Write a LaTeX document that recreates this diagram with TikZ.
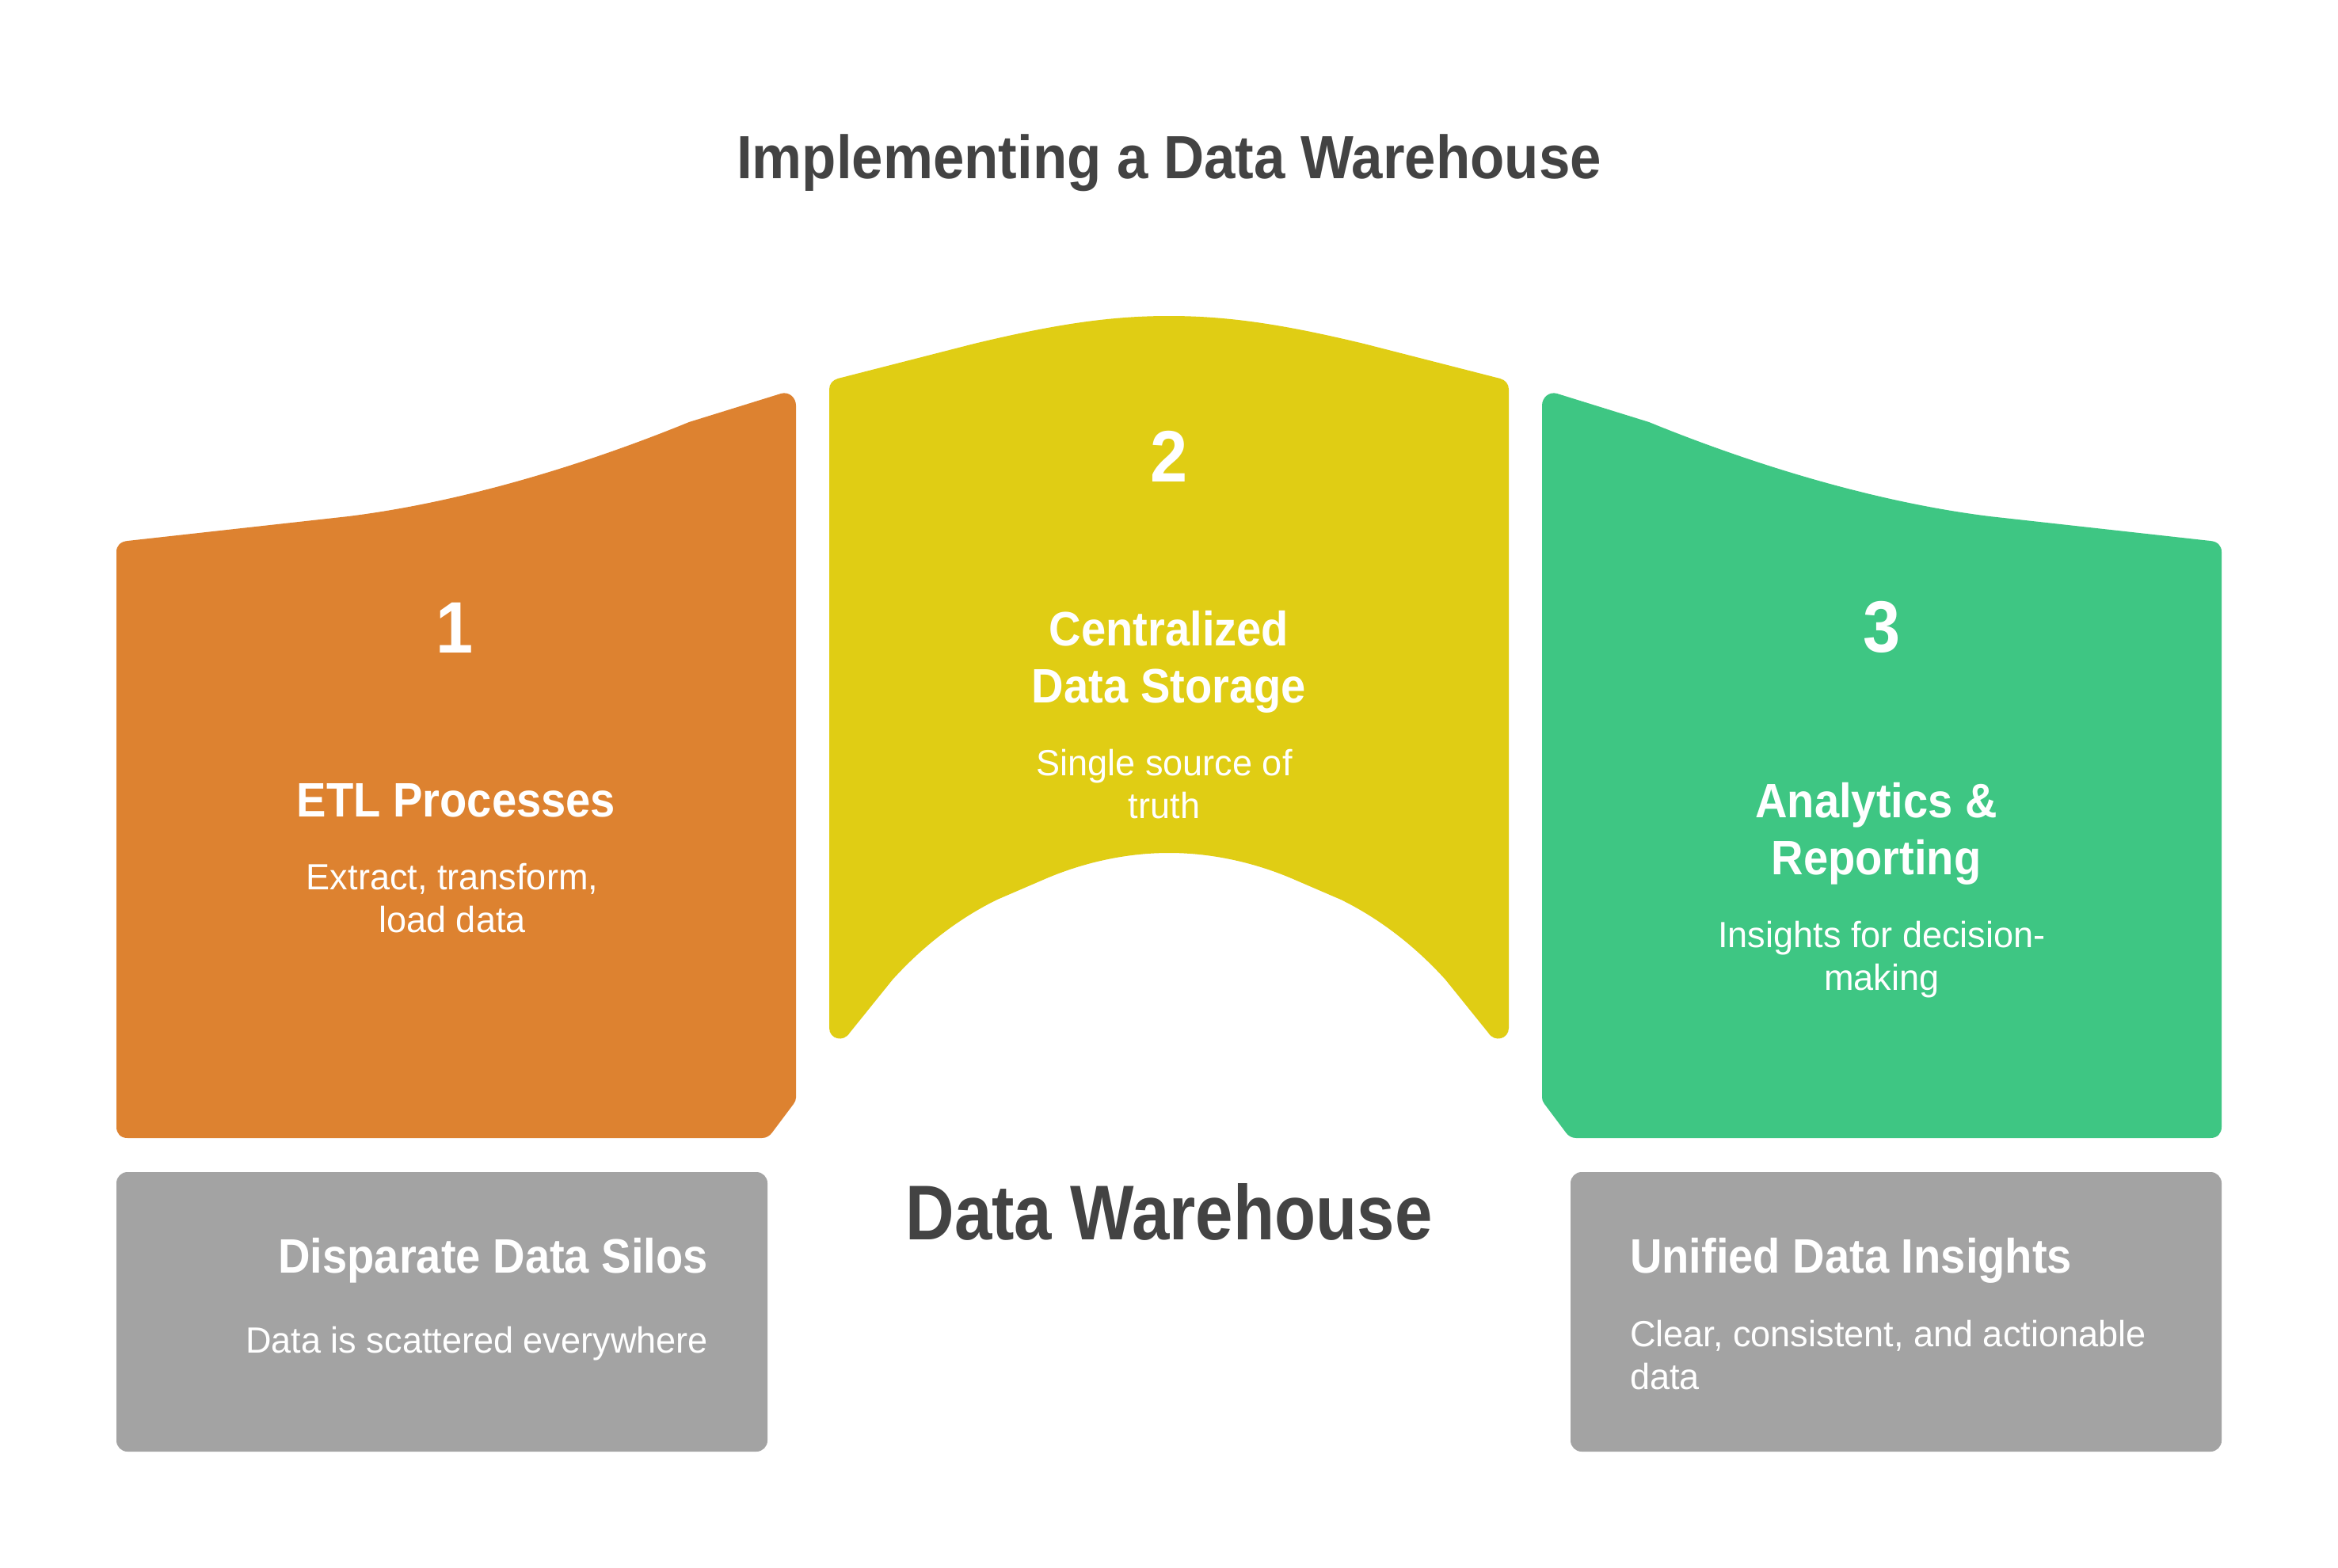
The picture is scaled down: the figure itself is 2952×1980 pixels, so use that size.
\documentclass[tikz,border=0pt]{standalone}
\usepackage{fontspec}
\setmainfont{Liberation Sans}
\newfontfamily\rbold[FakeStretch=0.92]{Liberation Sans Bold}
\newfontfamily\rbig[FakeStretch=0.87]{Liberation Sans Bold}
\newfontfamily\rreg[FakeStretch=0.98]{Liberation Sans}
\definecolor{orangeblk}{HTML}{DD8230}
\definecolor{yellowblk}{HTML}{E0CD14}
\definecolor{greenblk}{HTML}{3EC683}
\definecolor{grayblk}{HTML}{A3A3A3}
\definecolor{inkdark}{HTML}{434343}
\tikzset{
  x=0.5pt,y=-0.5pt,
  label base/.style={inner sep=0pt,outer sep=0pt,anchor=base,align=center},
  numtext/.style={label base,text=white,font=\rbold\fontsize{46}{46}\selectfont},
  headtext/.style={label base,text=white,font=\rbold\fontsize{30.5}{36}\selectfont},
  bodytext/.style={label base,text=white,font=\rreg\fontsize{23}{27}\selectfont},
  titletext/.style={label base,text=inkdark,font=\rbold\fontsize{38.5}{42}\selectfont},
  bigtext/.style={label base,text=inkdark,font=\rbig\fontsize{49}{54}\selectfont},
  graybox/.style={fill=grayblk,rounded corners=7pt}
}
\def\sideshape{
  (147,697) .. controls (147,689) and (152,684) .. (161,683)
  -- (440,652) .. controls (600,632) and (760,578) .. (870,533)
  -- (986,497) .. controls (996,494) and (1005,502) .. (1005,512)
  -- (1005,1386) .. controls (1005,1389) and (1004,1391) .. (1002,1394)
  -- (975,1430) .. controls (972,1434) and (968,1437) .. (962,1437)
  -- (161,1437) .. controls (152,1437) and (147,1431) .. (147,1423) -- cycle}
\begin{document}
\begin{tikzpicture}
\useasboundingbox (0,0) rectangle (2952,1980);
\fill[white] (0,0) rectangle (2952,1980);

\fill[orangeblk] \sideshape;
\fill[greenblk,shift={(2952,0)},xscale=-1] \sideshape;
\fill[yellowblk]
  (1047,492) .. controls (1047,485) and (1051,480) .. (1058,478)
  -- (1230,434) .. controls (1330,410) and (1400,399) .. (1476,399)
  .. controls (1552,399) and (1622,410) .. (1722,434)
  -- (1894,478) .. controls (1901,480) and (1905,485) .. (1905,492)
  -- (1905,1298) .. controls (1905,1312) and (1887,1317) .. (1879,1304)
  -- (1825,1237) .. controls (1787,1195) and (1742,1160) .. (1693,1136)
  -- (1635,1111) .. controls (1587,1090) and (1532,1077) .. (1476,1077)
  .. controls (1420,1077) and (1365,1090) .. (1317,1111)
  -- (1259,1136) .. controls (1210,1160) and (1165,1195) .. (1127,1237)
  -- (1073,1304) .. controls (1065,1317) and (1047,1312) .. (1047,1298) -- cycle;
\fill[graybox] (147,1480) rectangle (969,1833);
\fill[graybox] (1983,1480) rectangle (2805,1833);

\node[titletext] (title) at (1476,226) {Implementing a Data Warehouse};
\node[numtext] (n1) at (574,824) {1};
\node[headtext] (h1) at (576,1031) {ETL Processes};
\node[bodytext] (b1) at (571,1177) {Extract, transform,\\load data};
\node[numtext] (n2) at (1476,608) {2};
\node[headtext] (h2) at (1476,887) {Centralized\\Data Storage};
\node[bodytext] (b2) at (1470,1033) {Single source of\\truth};
\node[numtext] (n3) at (2376,823) {3};
\node[headtext] (h3) at (2369,1104) {Analytics \&\\Reporting};
\node[bodytext] (b3) at (2376,1250) {Insights for decision-\\making};
\node[bigtext] (dw) at (1476,1565) {Data Warehouse};
\node[headtext,anchor=base east] (h4) at (894,1607) {Disparate Data Silos};
\node[bodytext,anchor=base east] (b4) at (894,1708) {Data is scattered everywhere};
\node[headtext,anchor=base west] (h5) at (2058,1607) {Unified Data Insights};
\node[bodytext,anchor=base west,align=left] (b5) at (2058,1754) {Clear, consistent, and actionable\\data};
\end{tikzpicture}
\end{document}
